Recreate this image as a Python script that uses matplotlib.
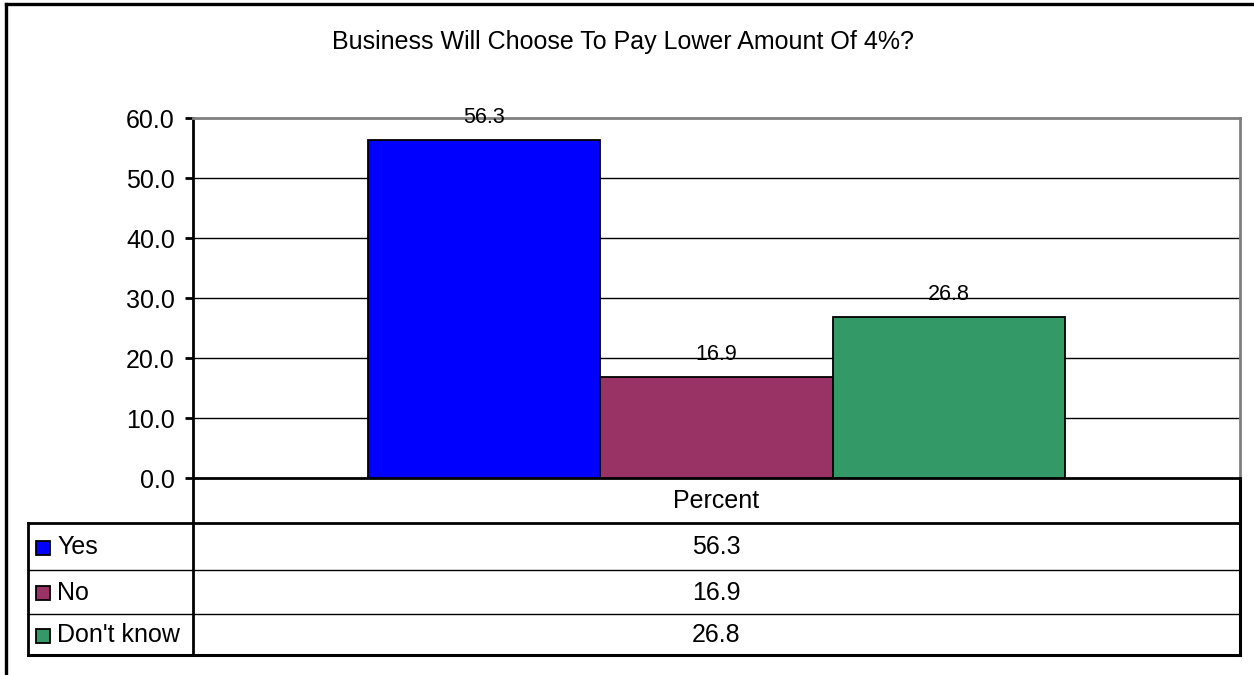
import matplotlib
matplotlib.use("Agg")
import matplotlib.pyplot as plt
from matplotlib.patches import Rectangle

plt.rcParams['font.family'] = ['Liberation Sans', 'DejaVu Sans']

title = "Business Will Choose To Pay Lower Amount Of 4%?"
categories = ["Yes", "No", "Don't know"]
values = [56.3, 16.9, 26.8]
colors = ["#0000FF", "#993366", "#339966"]
group_label = "Percent"
yticks = [0, 10, 20, 30, 40, 50, 60]

W, H = 1254, 675
FS = 18
fig = plt.figure(figsize=(W / 100, H / 100), dpi=100)

def fx(px):
    return px / W

def fy(py):
    return 1 - py / H

# overlay axes in pixel coordinates for frame and table
ov = fig.add_axes([0, 0, 1, 1], zorder=0)
ov.set_xlim(0, W)
ov.set_ylim(H, 0)
ov.axis('off')

# outer frame (extends past right/bottom edges)
ov.plot([6, 6], [4, H + 5], color='black', lw=2.4, solid_capstyle='projecting')
ov.plot([6, W + 5], [4, 4], color='black', lw=2.4, solid_capstyle='projecting')

# title
ov.text(623, 42, title, ha='center', va='center', fontsize=FS)

# main axes
L, R, T, B = 193, 1240, 118, 478
ax = fig.add_axes([fx(L), fy(B), fx(R - L), fy(T) - fy(B)], zorder=2)
ax.patch.set_alpha(0)
n = len(values)
bw = 2 / 9
xs = [(i - (n - 1) / 2) * bw for i in range(n)]
ax.bar(xs, values, width=bw, color=colors, edgecolor='black', linewidth=1.3, zorder=3)
for x, v in zip(xs, values):
    ax.annotate(f"{v:.1f}", (x, v), xytext=(0, 12.3), textcoords='offset points',
                ha='center', va='baseline', fontsize=15.5, zorder=4)
ax.set_xlim(-0.5, 0.5)
ax.set_ylim(0, 60)
ax.set_yticks(yticks)
ax.set_yticklabels([f"{t:.1f}" for t in yticks], fontsize=FS)
ax.set_xticks([])
for t in yticks[1:-1]:
    ax.axhline(t, color='black', lw=1.0, zorder=1)
ax.spines['left'].set_linewidth(2)
ax.spines['bottom'].set_linewidth(2)
ax.spines['top'].set_color('#808080')
ax.spines['right'].set_color('#808080')
ax.spines['top'].set_linewidth(2)
ax.spines['right'].set_linewidth(2)
ax.tick_params(axis='y', direction='out', length=6, width=2, pad=7)

# data table
row_edges = [478, 523, 570, 614, 655]
TL = 28
ov.plot([L, L], [B, row_edges[-1]], color='black', lw=2)
ov.plot([R, R], [B, row_edges[-1]], color='black', lw=2.2)
ov.plot([TL, R], [row_edges[1], row_edges[1]], color='black', lw=2)
ov.plot([TL, TL], [row_edges[1], row_edges[-1]], color='black', lw=2)
ov.plot([TL, R], [row_edges[-1], row_edges[-1]], color='black', lw=2.2)
for yy in row_edges[2:-1]:
    ov.plot([TL, R], [yy, yy], color='black', lw=1.0)
ov.text((L + R) / 2, (row_edges[0] + row_edges[1]) / 2 + 1, group_label,
        ha='center', va='center', fontsize=FS)
for i, (c, v, col) in enumerate(zip(categories, values, colors)):
    yc = (row_edges[i + 1] + row_edges[i + 2]) / 2 + 1
    ov.add_patch(Rectangle((36, yc - 7), 14, 14, facecolor=col, edgecolor='black', lw=1.3))
    ov.text(57, yc, c, ha='left', va='center', fontsize=FS)
    ov.text((L + R) / 2, yc, f"{v:.1f}", ha='center', va='center', fontsize=FS)

fig.savefig("out.png", dpi=100)
